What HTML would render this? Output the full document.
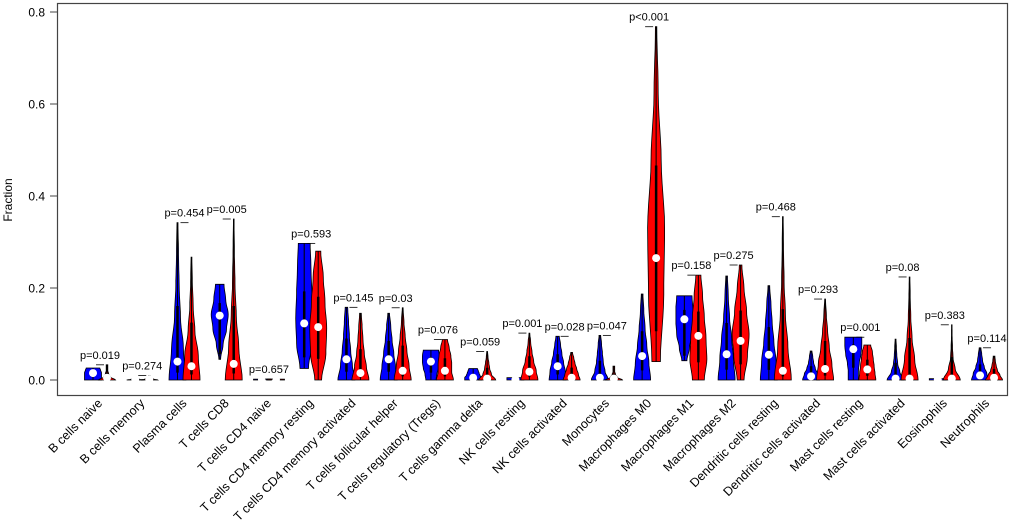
<!DOCTYPE html>
<html><head><meta charset="utf-8"><style>
body{margin:0;background:#fff;}
svg{display:block;font-family:"Liberation Sans",Arial,sans-serif;}
</style></head><body>
<svg id="chart" width="1019" height="520" viewBox="0 0 1019 520" xmlns="http://www.w3.org/2000/svg">
<rect x="57.5" y="3.5" width="950" height="392" fill="none" stroke="#444" stroke-width="1.2"/>
<text transform="translate(12,200) rotate(-90)" text-anchor="middle" font-size="12">Fraction</text>
<g id="axis"></g><g id="marks"></g><g id="labels"></g>
</svg>
<script>
const categories=["B cells naive","B cells memory","Plasma cells","T cells CD8","T cells CD4 naive","T cells CD4 memory resting","T cells CD4 memory activated","T cells follicular helper","T cells regulatory (Tregs)","T cells gamma delta","NK cells resting","NK cells activated","Monocytes","Macrophages M0","Macrophages M1","Macrophages M2","Dendritic cells resting","Dendritic cells activated","Mast cells resting","Mast cells activated","Eosinophils","Neutrophils"];
const pValues=["p=0.019","p=0.274","p=0.454","p=0.005","p=0.657","p=0.593","p=0.145","p=0.03","p=0.076","p=0.059","p=0.001","p=0.028","p=0.047","p<0.001","p=0.158","p=0.275","p=0.468","p=0.293","p=0.001","p=0.08","p=0.383","p=0.114"];
const blueMin=[0,0,0,0.045,0,0.025,0,0,0,0,0,0,0,0,0.042,0,0,0,0,0,0,0];
const blueMax=[0.026,0.008,0.342,0.208,0.002,0.297,0.158,0.145,0.065,0.025,0.005,0.095,0.097,0.187,0.183,0.226,0.205,0.063,0.093,0.089,0.003,0.07];
const blueMed=[0.015,0.002,0.04,0.14,0.001,0.123,0.045,0.045,0.04,0.005,0.001,0.03,0.005,0.052,0.132,0.056,0.055,0.008,0.067,0.003,0.001,0.01];
const redMin=[0,0,0,0,0,0,0,0,0,0,0,0,0,0.04,0,0,0,0,0,0,0,0];
const redMax=[0.033,0.01,0.267,0.35,0.002,0.28,0.145,0.157,0.088,0.062,0.102,0.06,0.03,0.768,0.228,0.25,0.355,0.176,0.076,0.224,0.12,0.052];
const redMed=[0.005,0.002,0.03,0.035,0.001,0.115,0.015,0.02,0.02,0.003,0.018,0.005,0.003,0.265,0.096,0.085,0.02,0.024,0.023,0.003,0.003,0.005];
const blueDens=[[1,1,1,1,0.9,0.8],[1,0.5,0.3,0.2,0.1,0.1],[1,0.7,0.35,0.2,0.12,0.06],[0.1,0.4,0.8,1,0.7,0.5],[1,1,1,1,1,1],[0.5,0.9,1,0.9,0.8,0.7],[1,0.7,0.5,0.35,0.25,0.15],[1,0.8,0.6,0.4,0.25,0.1],[0.6,0.7,0.9,1,1,0.9],[1,1,0.8,0.7,0.6,0.5],[1,1,1,1,1,1],[1,0.9,0.7,0.5,0.35,0.2],[1,0.6,0.4,0.3,0.2,0.1],[1,0.8,0.55,0.35,0.2,0.1],[0.3,0.6,0.9,1,1,0.9],[1,0.8,0.6,0.35,0.2,0.1],[1,0.85,0.6,0.4,0.25,0.1],[1,0.8,0.5,0.3,0.2,0.1],[0.6,0.6,0.7,0.9,1,1],[1,0.5,0.25,0.15,0.1,0.05],[1,1,1,1,1,1],[1,0.8,0.5,0.3,0.2,0.1]];
const redDens=[[1,0.4,0.2,0.1,0.1,0.1],[1,0.5,0.3,0.2,0.1,0.1],[1,0.8,0.4,0.2,0.1,0.05],[1,0.6,0.3,0.15,0.08,0.04],[1,1,1,1,1,1],[0.4,0.9,1,0.8,0.6,0.3],[1,0.7,0.45,0.3,0.2,0.1],[1,0.75,0.5,0.3,0.15,0.05],[1,0.8,0.8,0.7,0.5,0.3],[1,0.5,0.3,0.2,0.1,0.05],[1,0.8,0.5,0.3,0.15,0.05],[1,0.8,0.6,0.4,0.25,0.1],[1,0.4,0.2,0.1,0.1,0.1],[0.5,0.9,1,0.6,0.25,0.08],[0.7,1,0.9,0.7,0.5,0.3],[0.4,0.8,1,0.7,0.4,0.15],[1,0.6,0.3,0.15,0.08,0.04],[1,0.8,0.5,0.3,0.15,0.05],[1,0.9,0.8,0.7,0.6,0.4],[1,0.6,0.3,0.15,0.08,0.04],[1,0.4,0.15,0.08,0.04,0.02],[1,0.7,0.4,0.25,0.15,0.1]];
const yTicks=[0,0.2,0.4,0.6,0.8];
const yTickLabels=["0.0","0.2","0.4","0.6","0.8"];

const NS="http://www.w3.org/2000/svg";
function y(v){return 380-v*460;}
function xBlue(i){return 93+i*42.24;}
function xRed(i){return xBlue(i)+14;}
function mk(tag,attrs,parent){const e=document.createElementNS(NS,tag);for(const k in attrs)e.setAttribute(k,attrs[k]);parent.appendChild(e);return e;}
const axis=document.getElementById('axis'),marks=document.getElementById('marks'),labels=document.getElementById('labels');
yTicks.forEach((t,k)=>{
  const tk=mk('line',{x1:50,x2:57,y1:y(t),y2:y(t),stroke:'#444'},axis);
  
  
  const tx=mk('text',{x:45,y:y(t)+4.5,'text-anchor':'end','font-size':12},axis);
  tx.textContent=yTickLabels[k];
  
  
});
function dens(d,t){const p=t*(d.length-1);const i=Math.min(Math.floor(p),d.length-2);const f=p-i;const s=f*f*(3-2*f);return d[i]*(1-s)+d[i+1]*s;}
function violin(cx,mn,mx,md,d,color,name){
  const g=mk('g',{},marks);
  
  
  const W=8.5,N=30;let left=[],right=[];
  for(let k=0;k<=N;k++){const t=k/N;const v=mn+(mx-mn)*t;let w=W*dens(d,t);left.push([cx-w,y(v)]);right.push([cx+w,y(v)]);}
  const pts=left.concat(right.reverse());
  mk('path',{d:'M'+pts.map(q=>q[0].toFixed(1)+','+q[1].toFixed(1)).join('L')+'Z',fill:color,stroke:'#000','stroke-width':0.8},g);
  mk('line',{x1:cx,x2:cx,y1:y(mn),y2:y(mx),stroke:'#000','stroke-width':1},g);
  mk('line',{x1:cx,x2:cx,y1:y(Math.max(mn,md*0.4)),y2:y(Math.min(mx,md+(mx-md)*0.4)),stroke:'#000','stroke-width':2.5},g);
  mk('circle',{cx:cx,cy:y(md),r:4,fill:'#fff'},g);
}
categories.forEach((c,i)=>{
  violin(xBlue(i),blueMin[i],blueMax[i],blueMed[i],blueDens[i],'#0000ff','violin-blue-'+i);
  violin(xRed(i),redMin[i],redMax[i],redMed[i],redDens[i],'#ff0000','violin-red-'+i);
  const top=Math.max(blueMax[i],redMax[i]);
  const br=mk('line',{x1:xBlue(i)+3,x2:xRed(i)-3,y1:y(top),y2:y(top),stroke:'#000','stroke-width':0.8},marks);
  
  
  const pt=mk('text',{x:xBlue(i)+7,y:y(top)-6,'text-anchor':'middle','font-size':11},marks);
  pt.textContent=pValues[i];
  
  
  const lx=xBlue(i)+10;
  const lt=mk('text',{transform:'translate('+lx+',404) rotate(-45)','text-anchor':'end','font-size':12.5},labels);
  lt.textContent=c;
  
  
});
</script>
</body></html>
